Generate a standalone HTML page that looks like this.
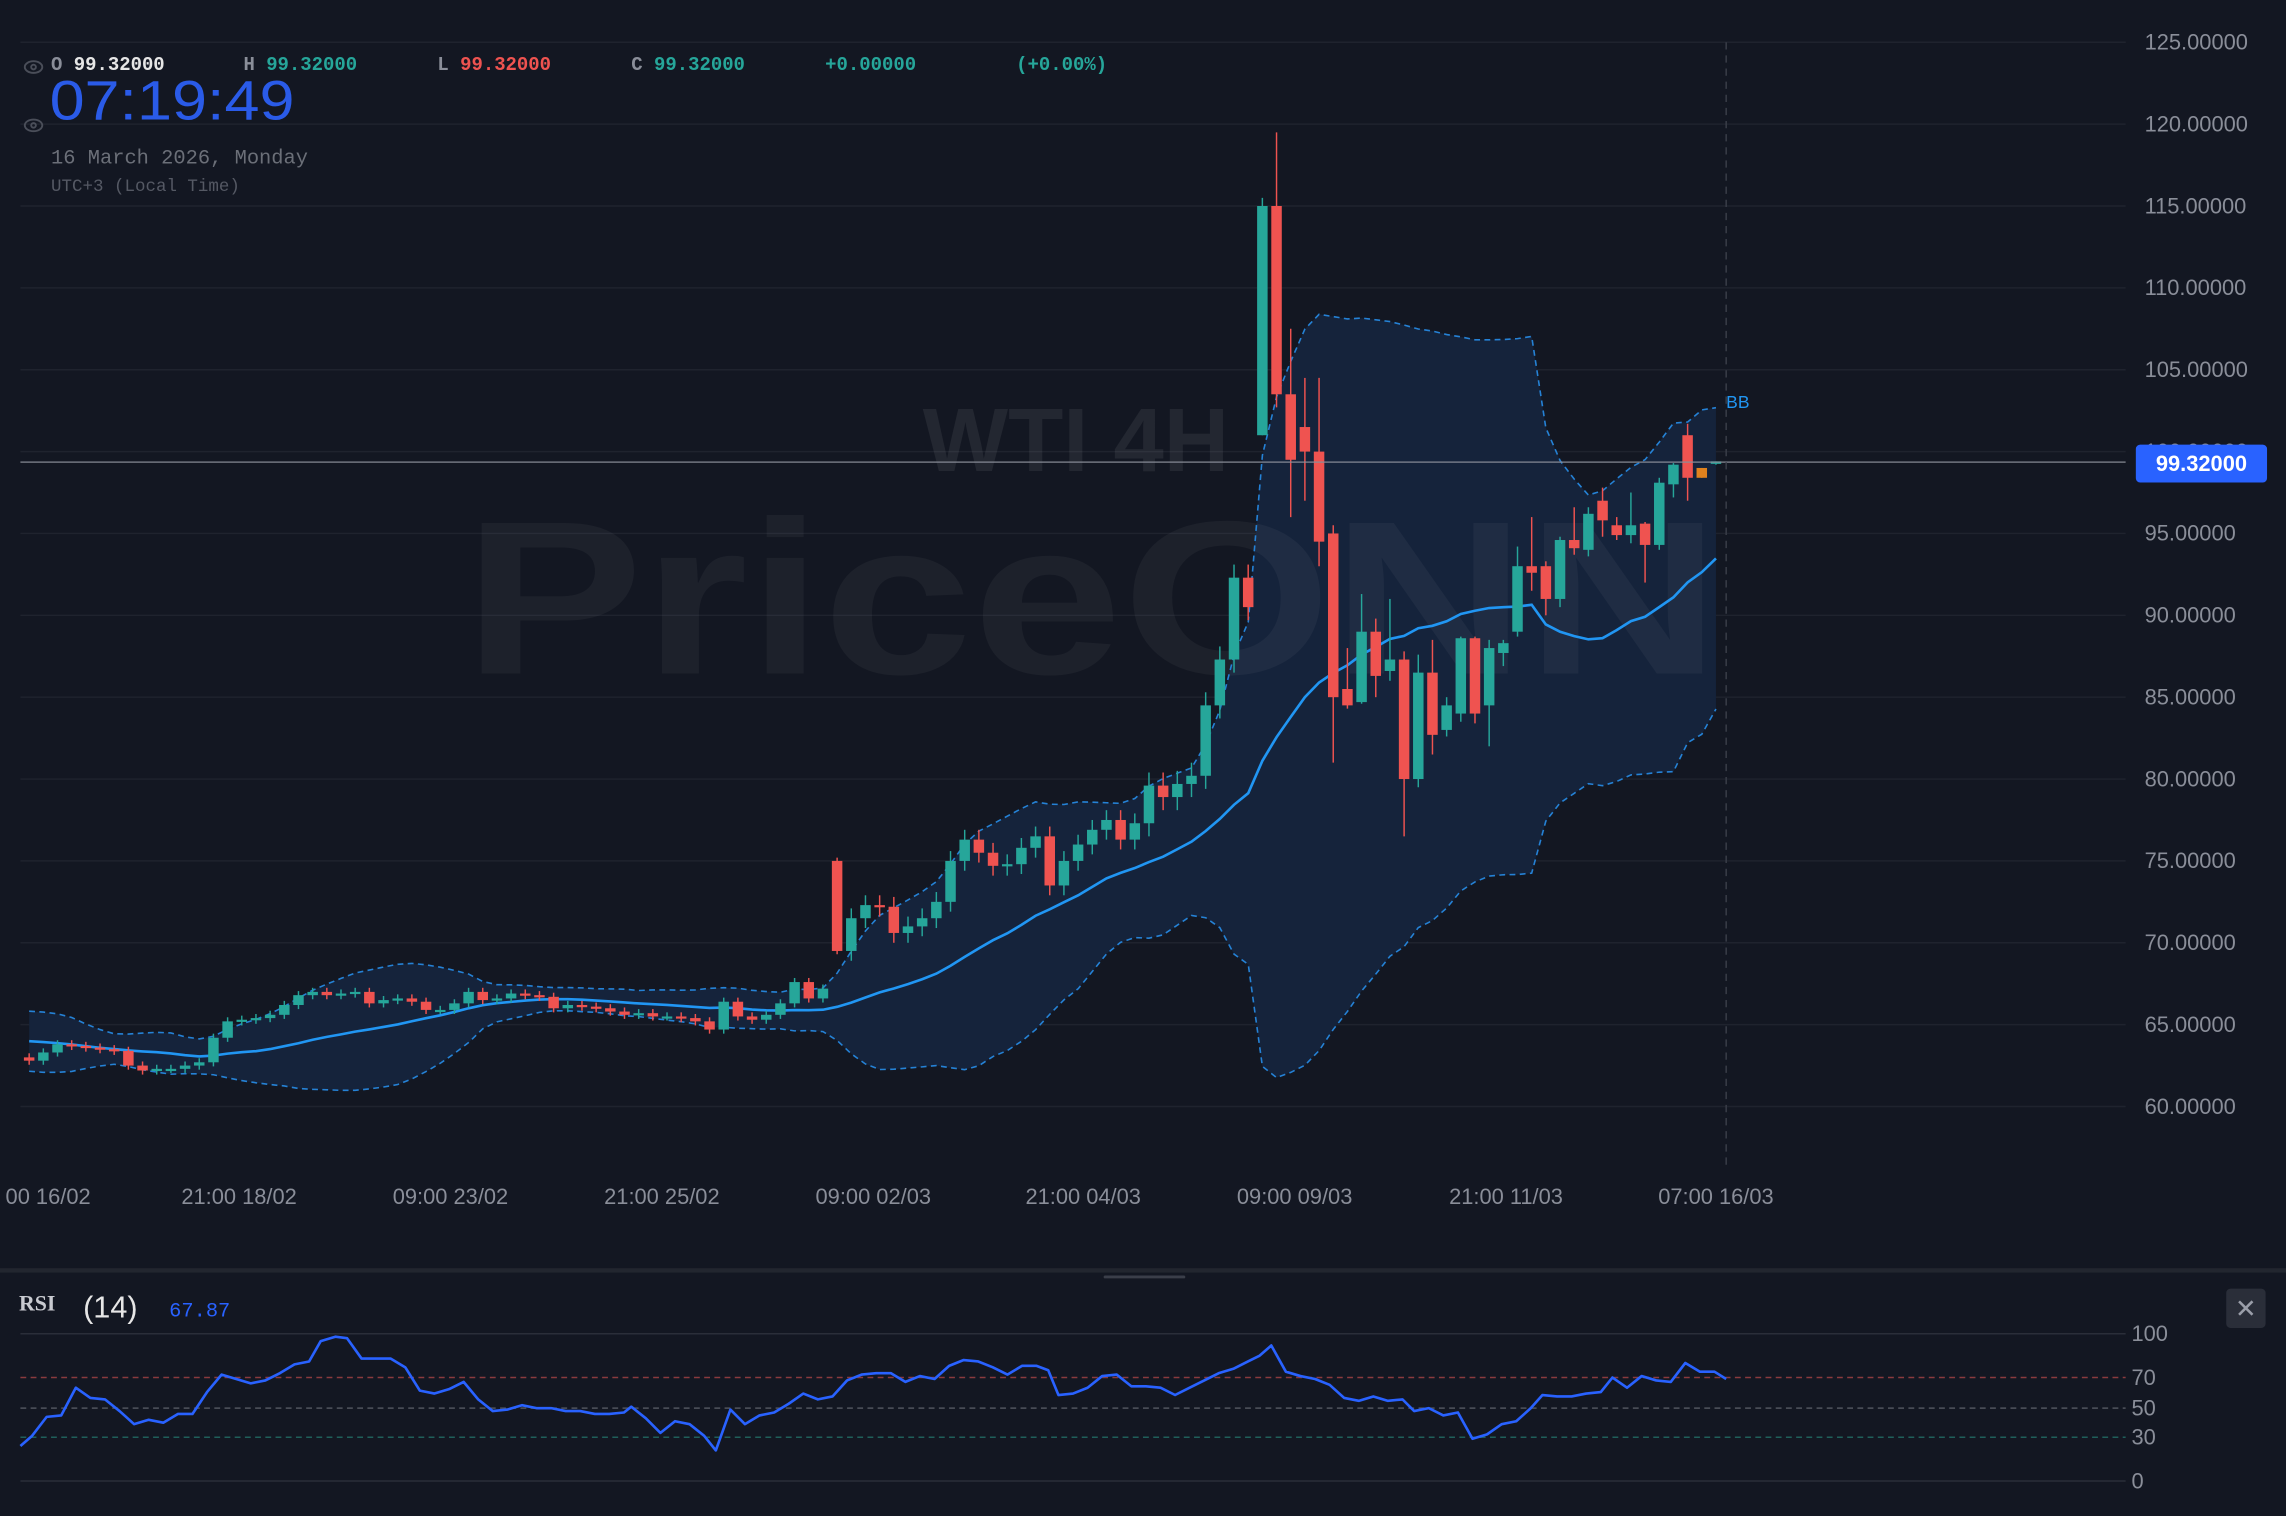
<!DOCTYPE html>
<html><head><meta charset="utf-8"><style>
html,body{margin:0;padding:0;background:#131722;overflow:hidden}
svg{display:block}
text{font-family:"Liberation Sans",sans-serif}
.m{font-family:"Liberation Mono",monospace}
</style></head><body>
<svg id="s" width="2286" height="1516" viewBox="0 0 1568 1040" preserveAspectRatio="none" xmlns="http://www.w3.org/2000/svg">
<rect width="1568" height="1040" fill="#131722"/>
<g id="grid" stroke="#1f232e" stroke-width="1"></g>
<g id="bbfill"></g>
<text x="738" y="323" font-size="62" font-weight="bold" fill="#ffffff" fill-opacity="0.07" text-anchor="middle">WTI 4H</text>
<text x="318" y="462" font-size="150" font-weight="bold" fill="#ffffff" fill-opacity="0.045" textLength="862" lengthAdjust="spacingAndGlyphs">PriceONN</text>
<g id="bb"></g>
<g id="candles"></g>
<line x1="14" y1="317" x2="1458" y2="317" stroke="#8a8e99" stroke-width="1" opacity="0.8"/>
<line x1="1184" y1="29" x2="1184" y2="800" stroke="#3a3e49" stroke-width="1" stroke-dasharray="5,4"/>
<text x="1184" y="280" font-size="12" fill="#2196f3">BB</text>
<g font-size="15" fill="#8a8e99" id="yl"></g>
<rect x="1465" y="305" width="90" height="26" rx="3" fill="#2962ff"/>
<text x="1510" y="323" font-size="15" font-weight="bold" fill="#fff" text-anchor="middle">99.32000</text>
<g font-size="15" fill="#8a8e99" text-anchor="middle">
<text x="33" y="826">00 16/02</text><text x="164" y="826">21:00 18/02</text><text x="309" y="826">09:00 23/02</text><text x="454" y="826">21:00 25/02</text><text x="599" y="826">09:00 02/03</text><text x="743" y="826">21:00 04/03</text><text x="888" y="826">09:00 09/03</text><text x="1033" y="826">21:00 11/03</text><text x="1177" y="826">07:00 16/03</text>
</g>
<g class="m" font-size="13" font-weight="bold">
<text x="35" y="48" class="m" fill="#8a8e99">O <tspan fill="#e6e6e6">99.32000</tspan></text>
<text x="167" y="48" class="m" fill="#8a8e99">H <tspan fill="#26a69a">99.32000</tspan></text>
<text x="300" y="48" class="m" fill="#8a8e99">L <tspan fill="#ef5350">99.32000</tspan></text>
<text x="433" y="48" class="m" fill="#8a8e99">C <tspan fill="#26a69a">99.32000</tspan></text>
<text x="566" y="48" class="m" fill="#26a69a">+0.00000</text>
<text x="697" y="48" class="m" fill="#26a69a">(+0.00%)</text>
</g>
<g fill="none" stroke="#4a4e59" stroke-width="1.3"><ellipse cx="23" cy="46" rx="6" ry="4"/><circle cx="23" cy="46" r="1.6"/><ellipse cx="23" cy="86" rx="6" ry="4"/><circle cx="23" cy="86" r="1.6"/></g>
<text x="34" y="82" font-size="38" fill="#2a5be8" textLength="168" lengthAdjust="spacingAndGlyphs">07:19:49</text>
<text x="35" y="112" class="m" font-size="14" fill="#6b6f78">16 March 2026, Monday</text>
<text x="35" y="131" class="m" font-size="12" fill="#555964">UTC+3 (Local Time)</text>
<rect x="0" y="870" width="1568" height="3" fill="#22262f"/>
<rect x="757" y="875" width="56" height="2" rx="1" fill="#3a3e49"/>
<text x="13" y="899" font-size="15" font-weight="bold" fill="#c8cad0" style="font-family:'Liberation Serif',serif">RSI</text>
<text x="57" y="904" font-size="21" fill="#e6e6e6">(14)</text>
<text x="116" y="903" class="m" font-size="14" fill="#2962ff">67.87</text>
<rect x="1527" y="884" width="27" height="27" rx="3" fill="#2a2e39"/>
<text x="1540.5" y="904" font-size="18" fill="#9a9ea9" text-anchor="middle">✕</text>
<g stroke-width="1">
<line x1="14" y1="915" x2="1458" y2="915" stroke="#2a2e39"/>
<line x1="14" y1="1016" x2="1458" y2="1016" stroke="#2a2e39"/>
<line x1="14" y1="945" x2="1458" y2="945" stroke="#8a3a3e" stroke-dasharray="4,3"/>
<line x1="14" y1="966" x2="1458" y2="966" stroke="#50545e" stroke-dasharray="4,3"/>
<line x1="14" y1="986" x2="1458" y2="986" stroke="#1f5f5a" stroke-dasharray="4,3"/>
</g>
<g font-size="15" fill="#8a8e99"><text x="1462" y="920">100</text><text x="1462" y="950">70</text><text x="1462" y="971">50</text><text x="1462" y="991">30</text><text x="1462" y="1021">0</text></g>
<polyline id="rsi" fill="none" stroke="#2962ff" stroke-width="1.8" stroke-linejoin="round" points="14,992 22,985 32,972 42,971 52,952 62,959 72,960 82,968 92,977 102,974 112,976 122,970 132,970 142,955 152,943 162,946 172,949 182,947 192,942 202,936 212,934 220,920 230,917 238,918 248,932 258,932 268,932 278,938 288,954 298,956 308,953 318,948 328,960 338,968 348,967 358,964 368,966 378,966 388,968 398,968 408,970 418,970 428,969 433,965 443,973 453,983 463,975 473,977 483,985 491,995 501,967 511,977 521,971 531,969 541,963 551,956 561,960 571,958 581,947 591,943 601,942 611,942 621,948 631,944 641,946 651,937 661,933 671,934 681,938 691,943 701,937 711,937 719,940 726,957 736,956 746,952 756,944 766,943 776,951 786,951 796,952 806,957 816,952 826,947 836,942 846,939 856,934 864,930 872,923 882,941 892,944 902,946 912,950 922,959 932,961 942,958 952,961 962,960 970,968 980,966 990,971 1000,969 1010,987 1020,984 1030,977 1040,975 1050,966 1058,957 1068,958 1078,958 1088,956 1098,955 1106,945 1116,952 1126,944 1136,947 1146,948 1156,935 1166,941 1176,941 1184,946"/>
</svg>
<script>
(function(){
var NS="http://www.w3.org/2000/svg";
function Y(p){return 29+(125-p)*11.232;}
function el(t,a,par){var e=document.createElementNS(NS,t);for(var k in a)e.setAttribute(k,a[k]);par.appendChild(e);return e;}
var grid=document.getElementById('grid'),yl=document.getElementById('yl');
el('line',{x1:14,y1:29,x2:1458,y2:29},grid);
for(var p=125;p>=60;p-=5){var y=Y(p);el('line',{x1:14,y1:y,x2:1458,y2:y},grid);
 var t=el('text',{x:1471,y:y+5},yl);t.textContent=p.toFixed(5);}
var closes=[62.8,63.3,63.8,63.7,63.6,63.5,63.4,62.5,62.2,62.3,62.3,62.5,62.7,64.2,65.2,65.3,65.4,65.6,66.2,66.8,67.0,66.8,66.9,67.0,66.3,66.5,66.6,66.4,65.9,65.9,66.3,67.0,66.5,66.6,66.9,66.8,66.7,66.0,66.2,66.1,66.0,65.8,65.6,65.7,65.5,65.5,65.4,65.2,64.7,66.4,65.5,65.3,65.6,66.3,67.6,66.6,67.2];
var D=[];var prev=63.0;
for(var i=0;i<closes.length;i++){var o=prev,c=closes[i];D.push([o,Math.max(o,c)+0.25,Math.min(o,c)-0.25,c]);prev=c;}
var cl2=[71.5,72.3,72.2,70.6,71.0,71.5,72.5,75.0,76.3,75.5,74.7,74.8,75.8,76.5,73.5,75.0,76.0,76.9,77.5,76.3,77.3,79.6,78.9,79.7,80.2,84.5,87.3,92.3,90.5];
D.push([75,75.2,69.3,69.5]);prev=69.5;
for(i=0;i<cl2.length;i++){var o=prev,c=cl2[i];var w=(i>20)?0.8:0.6;D.push([o,Math.max(o,c)+w,Math.min(o,c)-w,c]);prev=c;}
var ex=[[101,115.5,101,115],[115,119.5,102.7,103.5],[103.5,107.5,96,99.5],[101.5,104.5,97,100],[100,104.5,93,94.5],[95,95.5,81,85],[85.5,88,84.3,84.5],[84.7,91.3,84.6,89],[89,89.8,85,86.3],[86.6,91,86,87.3],[87.3,87.8,76.5,80],[80,87.6,79.5,86.5],[86.5,88.5,81.5,82.7],[83,85,82.6,84.5],[84,88.7,83.5,88.6],[88.6,88.7,83.4,84],[84.5,88.5,82,88],[87.7,88.5,86.9,88.3],[89,94.2,88.7,93],[93,96,91.5,92.6],[93,93.3,90,91],[91,94.8,90.5,94.6],[94.6,96.6,93.7,94.1],[94,96.6,93.6,96.2],[97,97.8,94.8,95.8],[95.5,96,94.6,94.9],[94.9,97.5,94.4,95.5],[95.6,95.7,92,94.3],[94.3,98.4,94,98.1],[98,99.3,97.2,99.2],[101,101.7,97,98.4],[98.4,99,98.4,99.0],[99.25,99.4,99.2,99.4]];
for(i=0;i<ex.length;i++)D.push(ex[i]);
var N=D.length,x0=20,dx=(1177-20)/(N-1);
var pre=[64.5,64.9,65.4,65.8,65.4,64.9,64.1,63.6,63.2,63.9,64.6,64.0,63.2,62.9,63.6,64.0,63.2,62.7,63.1];
var all=pre.concat(D.map(function(d){return d[3];}));
var up=[],mid=[],lo=[];
for(i=0;i<N;i++){var j=i+pre.length,s=0,n=0;for(var k=Math.max(0,j-19);k<=j;k++){s+=all[k];n++;}var m=s/n,v=0;for(k=Math.max(0,j-19);k<=j;k++)v+=(all[k]-m)*(all[k]-m);var sd=Math.sqrt(v/n);
 var x=x0+i*dx;up.push([x,Y(m+2*sd)]);mid.push([x,Y(m)]);lo.push([x,Y(m-2*sd)]);}
function pts(a){return a.map(function(q){return q[0].toFixed(1)+','+q[1].toFixed(1);}).join(' ');}
var bf=document.getElementById('bbfill'),bb=document.getElementById('bb');
el('polygon',{points:pts(up)+' '+pts(lo.slice().reverse()),fill:'#15233b'},bf);
el('polyline',{points:pts(up),fill:'none',stroke:'#2582d6','stroke-width':1.1,'stroke-dasharray':'4,3'},bb);
el('polyline',{points:pts(lo),fill:'none',stroke:'#2582d6','stroke-width':1.1,'stroke-dasharray':'4,3'},bb);
el('polyline',{points:pts(mid),fill:'none',stroke:'#2196f3','stroke-width':1.8},bb);
var cg=document.getElementById('candles');
for(i=0;i<N;i++){var d=D[i],x=x0+i*dx,col=d[3]>=d[0]?'#26a69a':'#ef5350';
 if(i==N-2)col='#e0821e';
 el('line',{x1:x,y1:Y(d[1]),x2:x,y2:Y(d[2]),stroke:col,'stroke-width':1},cg);
 var t=Y(Math.max(d[0],d[3])),b=Y(Math.min(d[0],d[3]));if(b-t<1.5){b=t+1.5;}
 el('rect',{x:x-3.6,y:t,width:7.2,height:b-t,fill:col},cg);}
})();
</script>
</body></html>
